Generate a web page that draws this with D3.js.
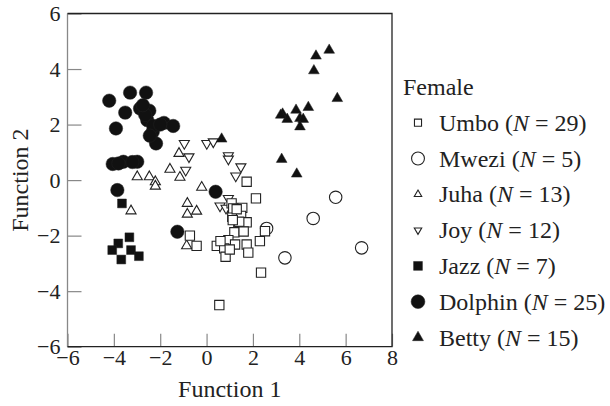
<!DOCTYPE html>
<html>
<head>
<meta charset="utf-8">
<style>
  body { margin: 0; background: #fff; }
  svg text { font-family: 'Liberation Serif', 'Times New Roman', serif; fill: #222; }
</style>
</head>
<body>
<svg width="610" height="406"></svg>
<script src="https://d3js.org/d3.v7.min.js"></script>
<script>
// values, [Function 1, Function 2]
const umbo = [[1.73,-0.06],[2.13,-0.66],[1.08,-0.84],[1.54,-1.00],[1.11,-1.32],[1.49,-1.29],
  [1.73,-1.52],[1.37,-1.60],[1.20,-1.88],[2.52,-1.84],[2.30,-2.20],[0.94,-2.16],[1.23,-2.32],
  [0.44,-2.37],[0.76,-2.46],[1.73,-2.32],[1.80,-2.61],[0.82,-2.76],[-0.43,-2.37],[2.35,-3.33],
  [-0.72,-2.00],[0.55,-4.50],[1.15,-1.02],[1.41,-1.50],[1.13,-1.44],[1.30,-1.05],[1.60,-1.85],
  [0.60,-2.20],[1.00,-2.50]];
const mwezi = [[5.57,-0.62],[4.60,-1.38],[2.59,-1.74],[3.38,-2.80],[6.69,-2.44]];
const juha = [[-1.19,0.96],[-2.99,0.12],[-2.47,0.12],[-2.21,-0.06],[-2.21,-0.22],[-1.58,0.39],
  [-1.15,0.10],[-3.26,-1.11],[-0.21,-0.26],[-0.83,-0.84],[-0.83,-1.23],[-0.43,-1.12],[-0.86,-2.37]];
const joy = [[-0.96,1.32],[-0.76,0.84],[0.01,1.32],[0.29,1.38],[0.94,0.88],[0.94,0.76],
  [1.48,0.48],[1.26,0.15],[-0.90,0.36],[0.94,-0.66],[0.58,-0.93],[0.84,-1.01]];
const jazz = [[-3.65,-0.84],[-3.33,-2.06],[-3.81,-2.28],[-4.07,-2.52],[-3.26,-2.52],
  [-3.68,-2.86],[-2.92,-2.74]];
const dolphin = [[-4.20,2.86],[-3.30,3.15],[-2.61,3.15],[-3.51,2.43],[-2.87,2.58],[-2.47,2.50],
  [-2.56,2.16],[-1.84,2.06],[-1.44,1.95],[-3.91,1.86],[-2.32,1.74],[-2.18,1.32],[-4.05,0.58],
  [-3.59,0.66],[-2.99,0.66],[-3.85,-0.36],[-1.26,-1.86],[0.39,-0.42],[-2.65,2.35],[-2.30,1.95],
  [-2.00,2.00],[-3.20,0.65],[-2.75,2.70],[-3.80,0.60],[-2.45,1.60]];
const betty = [[0.65,1.48],[5.29,4.68],[4.72,4.47],[4.63,3.94],[5.64,2.94],[3.28,2.38],
  [3.48,2.19],[3.86,2.52],[4.39,2.62],[4.03,2.22],[4.17,2.19],[4.03,1.92],[3.20,2.34],
  [3.24,0.75],[3.89,0.22]];

const groupNames = ['Umbo', 'Mwezi', 'Juha', 'Joy', 'Jazz', 'Dolphin', 'Betty'];
const groupN = [29, 5, 13, 12, 7, 25, 15];
const xTicks = [-6, -4, -2, 0, 2, 4, 6, 8];
const yTicks = [-6, -4, -2, 0, 2, 4, 6];

const svg = d3.select('svg');
const x = d3.scaleLinear().domain([-6, 8]).range([67.5, 392]);
const y = d3.scaleLinear().domain([-6, 6]).range([346.7, 13.5]);

// marker style per group: symbol type, plot size, legend size, filled, rotate
const styles = {
  Umbo:    {type: d3.symbolSquare,   size: 86,  lsize: 50,  fill: false, rot: 0},
  Mwezi:   {type: d3.symbolCircle,   size: 122, lsize: 130, fill: false, rot: 0},
  Juha:    {type: d3.symbolTriangle, size: 44,  lsize: 24,  fill: false, rot: 0},
  Joy:     {type: d3.symbolTriangle, size: 44,  lsize: 24,  fill: false, rot: 180},
  Jazz:    {type: d3.symbolSquare,   size: 78,  lsize: 78,  fill: true,  rot: 0},
  Dolphin: {type: d3.symbolCircle,   size: 142, lsize: 150, fill: true,  rot: 0},
  Betty:   {type: d3.symbolTriangle, size: 50,  lsize: 52,  fill: true,  rot: 0}
};
const seriesData = {Umbo: umbo, Mwezi: mwezi, Juha: juha, Joy: joy, Jazz: jazz, Dolphin: dolphin, Betty: betty};

const minus = d => String(d).replace('-', '\u2212');

// axes with inward ticks
const yAxis = svg.append('g')
  .attr('transform', `translate(${x(-6)},0)`)
  .call(d3.axisLeft(y).tickValues(yTicks).tickSizeInner(-14).tickSizeOuter(0).tickPadding(7)
    .tickFormat(minus));
const xAxis = svg.append('g')
  .attr('transform', `translate(0,${y(-6)})`)
  .call(d3.axisBottom(x).tickValues(xTicks).tickSizeInner(-13).tickSizeOuter(0).tickPadding(3)
    .tickFormat(minus));

[yAxis, xAxis].forEach(a => {
  a.select('.domain').remove();
  a.selectAll('.tick line').attr('stroke', '#888').attr('stroke-width', 1.2);
  a.selectAll('.tick text').attr('font-size', 22).attr('font-family', null).attr('fill', '#222');
});

// frame
svg.append('line').attr('x1', x(-6)).attr('x2', x(-6)).attr('y1', y(6)).attr('y2', y(-6))
  .attr('stroke', '#888').attr('stroke-width', 1.3);
svg.append('path')
  .attr('d', `M${x(-6)},${y(6)}H${x(8)}V${y(-6)}H${x(-6)}`)
  .attr('fill', 'none').attr('stroke', '#222').attr('stroke-width', 1.3);

// points
const drawOrder = ['Juha', 'Joy', 'Dolphin', 'Jazz', 'Betty', 'Mwezi', 'Umbo'];
drawOrder.forEach(name => {
  const s = styles[name];
  svg.append('g').selectAll('path')
    .data(seriesData[name])
    .join('path')
    .attr('d', d3.symbol().type(s.type).size(s.size))
    .attr('transform', d => `translate(${x(d[0])},${y(d[1])}) rotate(${s.rot})`)
    .attr('fill', s.fill ? '#111' : '#fff')
    .attr('stroke', '#222')
    .attr('stroke-width', s.fill ? 0.5 : 1.1);
});

// axis titles
svg.append('text')
  .attr('x', (x(-6) + x(8)) / 2).attr('y', 397)
  .attr('text-anchor', 'middle').attr('font-size', 24)
  .text('Function 1');
svg.append('text')
  .attr('transform', `translate(28,${(y(6) + y(-6)) / 2}) rotate(-90)`)
  .attr('text-anchor', 'middle').attr('font-size', 24)
  .text('Function 2');

// legend
const legend = svg.append('g');
legend.append('text').attr('x', 403).attr('y', 95).attr('font-size', 24).text('Female');
const rows = legend.selectAll('g.row')
  .data(groupNames)
  .join('g')
  .attr('class', 'row')
  .attr('transform', (d, i) => `translate(0,${122.7 + i * 35.8})`);
rows.append('path')
  .attr('d', d => d3.symbol().type(styles[d].type).size(styles[d].lsize)())
  .attr('transform', d => `translate(418,0) rotate(${styles[d].rot})`)
  .attr('fill', d => styles[d].fill ? '#111' : '#fff')
  .attr('stroke', '#222')
  .attr('stroke-width', d => styles[d].fill ? 0.5 : 1.1);
const label = rows.append('text')
  .attr('x', 439).attr('y', 8).attr('font-size', 24);
label.append('tspan').text(d => d + ' (');
label.append('tspan').attr('font-style', 'italic').text('N');
label.append('tspan').text((d, i) => ' = ' + groupN[i] + ')');
</script>
</body>
</html>
